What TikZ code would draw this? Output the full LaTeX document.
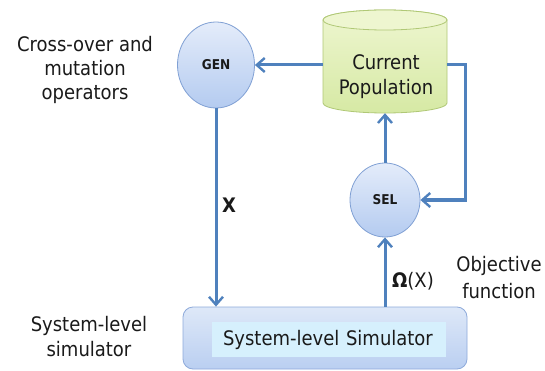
\documentclass[tikz,border=0pt]{standalone}
\usepackage{fontspec}
\setmainfont{DejaVu Sans Condensed}
\usetikzlibrary{shapes.geometric,arrows.meta}

\definecolor{flow}{RGB}{79,129,189}
\definecolor{circedge}{RGB}{128,160,212}
\definecolor{circtop}{RGB}{228,236,250}
\definecolor{circbot}{RGB}{180,203,240}
\definecolor{cyledge}{RGB}{176,200,118}
\definecolor{cyltop}{RGB}{238,246,208}
\definecolor{cylbot}{RGB}{214,233,164}
\definecolor{boxedge}{RGB}{142,170,219}
\definecolor{boxtop}{RGB}{222,232,248}
\definecolor{boxbot}{RGB}{186,207,241}
\definecolor{innerfill}{RGB}{214,240,253}
\definecolor{ink}{RGB}{26,26,26}

\tikzset{
  opnode/.style={ellipse, draw=circedge, line width=0.8pt, top color=circtop,
    bottom color=circbot, inner sep=0pt, text=ink,
    font=\fontsize{13.5}{15}\selectfont\bfseries},
  lbl/.style={font=\fontsize{20}{24}\selectfont, align=center, inner sep=0pt, text=ink},
  link/.style={draw=flow, line width=3pt,
    -{Straight Barb[length=8pt,width=14pt,line width=2.4pt]}},
}

\begin{document}
\begin{tikzpicture}[x=1pt,y=-1pt]
\useasboundingbox[fill=white] (0,0) rectangle (545,371);

% operator nodes
\node[opnode, minimum width=77pt, minimum height=86pt] (gen) at (216,65) {GEN};
\node[opnode, minimum width=70pt, minimum height=74pt] (sel) at (385,200) {SEL};

% population store, drawn as a cylinder
\path[top color=cyltop, bottom color=cylbot, draw=cyledge, line width=0.8pt]
  (323,20) -- (323,103)
  arc[start angle=180, end angle=360, x radius=62pt, y radius=10pt]
  -- (447,20)
  arc[start angle=0, end angle=180, x radius=62pt, y radius=10pt] -- cycle;
\path[fill=cyltop, draw=cyledge, line width=0.8pt]
  (385,20) ellipse[x radius=62pt, y radius=10pt];
\node[inner sep=0pt, minimum width=124pt, minimum height=103pt] (pop) at (385,61.5) {};
\node[lbl, font=\fontsize{20}{25}\selectfont] (poptxt) at (386,77) {Current\\Population};

% simulator block
\node[rounded corners=10pt, draw=boxedge, line width=0.8pt, top color=boxtop,
  bottom color=boxbot, minimum width=284pt, minimum height=62pt, inner sep=0pt]
  (sim) at (325,338) {};
\node[fill=innerfill, minimum width=234pt, minimum height=35pt, inner sep=0pt,
  text width=212pt, align=left, text=ink, font=\fontsize{20}{24}\selectfont]
  (simtxt) at (329,339.5) {System-level Simulator};

% connectors
\coordinate (loop) at (465,200);
\draw[link] (pop.west |- gen) -- (gen);
\draw[link] (gen.south) -- (gen.south |- sim.north);
\draw[link] (sel.south |- sim.north) -- (sel.south);
\draw[link] (sel.north) -- (pop.south);
\draw[link] (pop.east |- gen) -| (loop) -- (sel.east);

% annotations
\node[lbl] (xlbl) at (229,205) {\textbf{X}};
\node[lbl] (omega) at (413,281) {\textbf{Ω}(X)};
\node[lbl] (oplbl) at (85,70) {Cross-over and\\mutation\\operators};
\node[lbl, font=\fontsize{20}{25}\selectfont] (simlbl) at (89,337) {System-level\\simulator};
\node[lbl, font=\fontsize{20}{27}\selectfont] (objlbl) at (499,278) {Objective\\function};
\end{tikzpicture}
\end{document}
